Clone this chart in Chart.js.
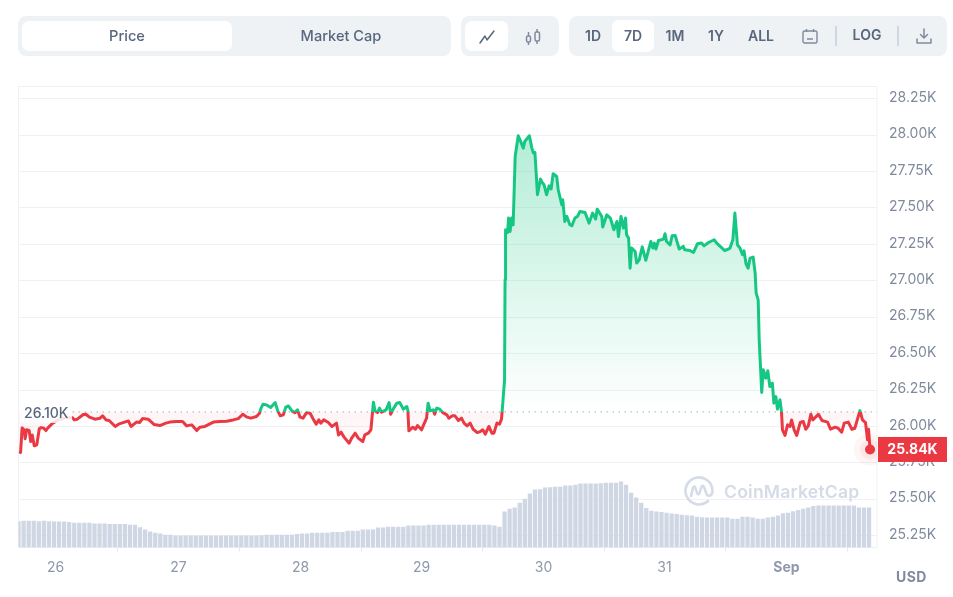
<!DOCTYPE html>
<html>
<head>
<meta charset="utf-8">
<title>Bitcoin price</title>
<script src="https://cdn.jsdelivr.net/npm/chart.js@4/dist/chart.umd.js"></script>
<style>
  html, body { margin: 0; padding: 0; background: #fff; }
  body { position: relative; width: 953px; height: 597px; overflow: hidden; font-family: Inter, sans-serif; }
  canvas { position: absolute; left: 0; top: 0; }
  .group { position: absolute; top: 16px; height: 40px; background: #eff2f5; border-radius: 8px; }
  .on { position: absolute; background: #fff; border-radius: 7px; }
  .btn { position: absolute; top: 16px; height: 39px; line-height: 39px; transform: translateX(-50%); color: #58667e; font-size: 14px; font-weight: 600; white-space: nowrap; }
  .btn.big { top: 17px; font-weight: 500; font-size: 14.6px; }
  .icon { position: absolute; }
  .divider { position: absolute; top: 26px; width: 2px; height: 20px; background: #cfd6e4; }
  .mark { position: absolute; left: 724px; top: 480px; font-size: 17.6px; line-height: 24px; font-weight: 600; color: #d5dbe7; letter-spacing: 0.2px; }
  .usd { position: absolute; left: 896px; top: 568px; font-size: 14px; line-height: 17px; font-weight: 700; color: #808a9d; letter-spacing: 0.4px; }
</style>
</head>
<body>
<canvas id="myChart" width="953" height="597"></canvas>

<div class="group" style="left:18px;width:433px"></div>
<div class="on" style="left:22px;top:21px;width:210px;height:30px"></div>
<span class="btn big" style="left:127px">Price</span>
<span class="btn big" style="left:341px">Market Cap</span>

<div class="group" style="left:461px;width:98px"></div>
<div class="on" style="left:465px;top:21px;width:43px;height:30px"></div>
<svg class="icon" style="left:478px;top:28px" width="18" height="18" viewBox="0 0 18 18" fill="none" stroke="#58667e" stroke-width="1.5" stroke-linejoin="round" stroke-linecap="round"><path d="M2 15 L7 8 L9 12 L16 3"/></svg>
<svg class="icon" style="left:524px;top:28px" width="18" height="18" viewBox="0 0 18 18" fill="none" stroke="#808a9d" stroke-width="1.5"><rect x="2.5" y="8" width="4" height="6" rx="1.5"/><path d="M4.5 4V8M4.5 14V17"/><rect x="11" y="4" width="4.5" height="9" rx="1.5"/><path d="M13 1V4M13 13V16"/></svg>

<div class="group" style="left:569px;width:378px"></div>
<div class="on" style="left:612px;top:20px;width:42px;height:32px"></div>
<span class="btn" style="left:593px">1D</span>
<span class="btn" style="left:633px">7D</span>
<span class="btn" style="left:675px">1M</span>
<span class="btn" style="left:716px">1Y</span>
<span class="btn" style="left:761px">ALL</span>
<svg class="icon" style="left:802px;top:28px" width="16" height="16" viewBox="0 0 16 16" fill="none" stroke="#808a9d" stroke-width="1.4"><rect x="1" y="3" width="14" height="12" rx="1.5"/><path d="M4.5 1V4M11.5 1V4M5 11H11"/></svg>
<div class="divider" style="left:835px"></div>
<span class="btn" style="left:867px;top:15px">LOG</span>
<div class="divider" style="left:897px"></div>
<svg class="icon" style="left:916px;top:28px" width="16" height="16" viewBox="0 0 16 16" fill="none" stroke="#808a9d" stroke-width="1.5" stroke-linecap="round" stroke-linejoin="round"><path d="M8 1V10M4.5 6.5L8 10L11.5 6.5M1 11V15H15V11"/></svg>

<svg class="icon" style="left:684px;top:476px" width="30" height="30" viewBox="0 0 30 30" fill="none" stroke="#d5dbe7" stroke-width="2.6" stroke-linecap="round" stroke-linejoin="round"><path d="M24 25 A13.5 13.5 0 1 1 28.5 15 C28.5 20 24 21 22.5 18 L20 11 C19 9 17.5 10 17 12 L15.5 17 C15 19 13.5 19 13 17 L11.5 12 C11 10 9.5 10 9 12 L7 20"/></svg>
<div class="mark">CoinMarketCap</div>
<div class="usd">USD</div>

<script>
//hours are counted from 26 Aug 00:00
const priceHours = [
  -7.2,-6.9,-6.6,-6.2,-6.0,-5.7,-5.2,-4.9,-4.6,-4.2,-3.7,-3.2,-2.9,-2.4,-1.9,-1.5,-0.7,0.5,1.9,3.4,
  3.7,4.3,5.5,6.0,6.7,7.8,8.8,9.3,10.0,10.6,11.8,12.6,14.4,14.9,16.0,16.6,17.2,18.3,19.5,20.6,
  21.8,22.6,23.9,25.1,25.9,26.9,27.9,28.5,29.5,31.2,32.5,33.8,35.1,36.1,37.0,37.8,38.6,39.7,40.3,40.6,
  41.0,41.7,42.5,43.4,43.9,44.4,45.0,45.5,46.0,46.7,47.3,47.8,48.3,48.9,49.6,50.3,50.8,51.5,52.0,52.4,
  53.0,53.9,54.6,55.5,55.9,56.4,57.0,58.0,58.5,59.2,59.8,60.7,61.1,61.8,62.3,62.6,62.8,63.1,63.6,64.0,
  64.4,65.3,65.9,66.2,66.7,67.4,68.0,68.7,69.4,69.6,69.8,70.6,71.1,71.5,72.3,72.8,73.3,73.6,74.0,74.6,
  74.9,75.3,75.9,76.5,77.3,77.7,78.4,78.9,79.6,80.2,80.7,81.3,81.9,82.5,83.3,83.9,84.4,84.9,85.6,86.2,
  86.6,87.2,87.7,88.1,88.3,88.7,88.8,88.9,89.3,89.5,89.8,90.1,90.4,90.8,91.4,91.8,92.4,92.7,93.6,94.1,
  94.4,94.7,95.2,95.8,96.2,96.5,97.0,97.5,97.9,98.3,99.0,99.3,100.0,100.2,100.6,101.0,101.6,102.0,102.6,103.1,
  103.6,104.6,105.4,106.1,106.7,107.0,107.9,108.1,108.9,109.6,110.3,110.9,111.2,111.7,112.2,112.6,112.8,113.2,113.5,113.8,
  114.5,114.8,115.3,115.9,116.6,117.6,118.0,118.3,118.6,119.1,120.1,120.4,120.7,121.4,121.8,122.4,123.2,124.0,124.3,125.3,
  126.0,126.8,127.6,128.1,129.0,130.1,130.6,131.3,132.2,133.2,133.8,134.2,134.7,135.2,135.7,136.0,136.4,136.8,137.2,137.8,
  138.2,138.4,138.8,139.0,139.5,139.8,140.3,140.7,141.1,141.6,141.9,142.3,142.6,143.1,143.4,143.6,144.1,144.6,145.1,145.4,
  145.9,146.4,147.1,147.7,148.2,148.7,149.2,149.6,150.7,151.4,152.5,153.1,154.0,154.6,155.3,155.8,156.6,157.3,157.9,158.9,
  159.4,160.0,160.4,160.6,160.9
];

const priceValues = [
  25828,25821,25990,25977,25915,25977,25972,25896,25942,25867,25874,25984,25992,25990,25972,25990,26018,26045,26059,26059,
  26045,26050,26082,26084,26064,26050,26057,26073,26045,26041,26000,26018,26038,26000,26030,26027,26054,26050,26013,26006,
  26023,26030,26034,26034,26004,26011,25972,25995,26000,26030,26034,26036,26045,26054,26084,26064,26057,26068,26091,26126,
  26153,26148,26130,26164,26107,26073,26080,26133,26141,26107,26095,26114,26064,26057,26095,26091,26057,26016,26045,26023,
  26045,26027,26000,26023,25942,25961,25927,25885,25920,25954,25920,25896,25942,25954,25977,26091,26167,26107,26095,26126,
  26098,26114,26164,26084,26119,26160,26164,26119,26137,26109,25970,25995,25981,26006,25977,26018,26057,26160,26107,26114,
  26084,26126,26119,26095,26080,26057,26073,26073,26041,26057,26023,26004,26023,25981,25958,25965,25977,25947,26000,25954,
  25954,26023,26016,26050,26137,26320,27007,27350,27332,27431,27339,27431,27385,27854,27996,27964,27911,27957,27996,27911,
  27877,27881,27591,27698,27671,27659,27591,27652,27630,27735,27716,27625,27522,27556,27407,27442,27385,27378,27431,27442,
  27476,27469,27396,27465,27424,27492,27442,27369,27453,27431,27350,27407,27304,27442,27362,27431,27316,27293,27087,27225,
  27201,27122,27144,27233,27141,27270,27225,27259,27218,27277,27286,27323,27270,27247,27309,27311,27218,27236,27213,27208,
  27194,27254,27259,27240,27263,27282,27259,27236,27208,27222,27282,27465,27247,27225,27179,27206,27117,27087,27156,27163,
  27053,26915,26869,26595,26233,26389,26332,26382,26274,26297,26160,26205,26119,26183,26102,25977,25938,26011,26000,26045,
  25977,25938,26027,26034,25981,26004,26084,26045,26084,26041,26030,25981,25995,25988,25961,26023,26030,25981,25988,26109,
  26045,26027,25908,25981,25842
];

//volume per hour in billions, first bar just after hour -7.3
const volumeStartHour = -7.3;
const volumeValues = [
  11.7,11.9,11.9,11.9,11.7,11.9,11.7,11.5,11.5,11.5,11.3,11.0,11.0,11.0,11.0,10.6,10.6,10.6,10.4,10.4,
  10.4,10.4,10.1,10.1,9.0,7.9,7.0,6.5,6.1,5.6,5.6,5.2,5.2,5.2,5.2,5.2,5.2,5.2,5.2,5.2,
  5.2,5.2,5.2,5.2,5.2,5.2,5.2,5.2,5.4,5.6,5.6,5.6,5.6,5.6,5.6,5.9,6.1,6.1,6.5,6.5,
  6.5,6.5,6.8,6.8,6.8,7.4,7.4,7.4,7.9,7.9,7.9,8.8,8.8,9.2,9.2,9.2,9.2,9.7,9.7,9.7,
  9.7,10.1,10.1,10.1,10.1,10.1,10.1,10.1,10.1,10.1,10.1,10.1,10.1,10.1,9.7,9.2,16.0,17.3,17.8,20.0,
  21.8,24.1,25.9,26.1,26.8,27.0,27.2,27.2,27.7,27.7,28.1,28.6,28.6,28.6,28.6,28.8,29.0,29.0,29.0,29.5,
  28.1,24.5,22.3,20.0,17.6,16.4,16.0,15.8,15.5,15.1,14.9,14.6,14.4,14.2,13.7,13.5,13.3,13.3,13.3,13.3,
  13.3,12.8,12.8,13.7,13.7,13.3,12.8,12.8,13.3,13.7,14.2,15.3,15.5,16.2,16.7,17.3,17.8,18.5,18.7,18.7,
  18.7,18.7,18.7,18.7,18.7,18.7,17.8,17.8,17.8
];

const baselinePrice = 26100;
const baselineLabel = "26.10K";
const priceTicks = [25250,25500,25750,26000,26250,26500,26750,27000,27250,27500,27750,28000,28250];
const dayTickHours = [0,24.3,48.4,72.3,96.4,120.3,144.4];
const dayLabels = ["26","27","28","29","30","31","Sep"];

const up = "#16c784";
const down = "#ea3943";

function fmt(v) {
  return (v / 1000).toFixed(2) + "K";
}

//line is green above the baseline and red under it
function strokeColor(c) {
  const area = c.chart.chartArea;
  if (!area) return down;
  const y = c.chart.scales.y;
  const g = c.chart.ctx.createLinearGradient(0, area.top, 0, area.bottom);
  const stop = (y.getPixelForValue(baselinePrice) - area.top) / (area.bottom - area.top);
  g.addColorStop(0, up);
  g.addColorStop(stop, up);
  g.addColorStop(stop, down);
  g.addColorStop(1, down);
  return g;
}

function areaFill(c) {
  const area = c.chart.chartArea;
  if (!area) return { target: { value: baselinePrice }, above: "transparent", below: "transparent" };
  const y = c.chart.scales.y;
  const base = y.getPixelForValue(baselinePrice);
  const hi = c.chart.ctx.createLinearGradient(0, y.getPixelForValue(28000), 0, base);
  hi.addColorStop(0, "rgba(22,199,132,0.32)");
  hi.addColorStop(1, "rgba(22,199,132,0)");
  const lo = c.chart.ctx.createLinearGradient(0, base, 0, y.getPixelForValue(25850));
  lo.addColorStop(0, "rgba(234,57,67,0.05)");
  lo.addColorStop(1, "rgba(234,57,67,0.02)");
  return { target: { value: baselinePrice }, above: hi, below: lo };
}

//frame round the plot
const framePlugin = {
  id: "frame",
  beforeDatasetsDraw(chart) {
    const a = chart.chartArea;
    const ctx = chart.ctx;
    ctx.save();
    ctx.strokeStyle = "#eff2f5";
    ctx.lineWidth = 1;
    ctx.strokeRect(a.left, a.top, a.right - a.left, a.bottom - a.top);
    ctx.restore();
  }
};

//baseline label and the last price tag
const labelPlugin = {
  id: "labels",
  afterDraw(chart) {
    const ctx = chart.ctx;
    const y = chart.scales.y;
    const base = y.getPixelForValue(baselinePrice);
    const last = priceValues[priceValues.length - 1];
    const lastY = y.getPixelForValue(last);
    ctx.save();
    ctx.fillStyle = "rgba(255,255,255,0.85)";
    ctx.fillRect(20, base - 8, 52, 19);
    ctx.font = "500 14px Inter";
    ctx.fillStyle = "#58667e";
    ctx.textAlign = "left";
    ctx.textBaseline = "middle";
    ctx.fillText(baselineLabel, 24, base + 2);
    ctx.fillStyle = down;
    ctx.fillRect(878, lastY - 12.5, 69, 25);
    ctx.font = "700 14px Inter";
    ctx.fillStyle = "#fff";
    ctx.textAlign = "center";
    ctx.fillText(fmt(last), 912.5, lastY + 0.5);
    ctx.restore();
  }
};

const lastHour = priceHours[priceHours.length - 1];
const lastPrice = priceValues[priceValues.length - 1];

new Chart(document.getElementById("myChart"), {
  data: {
    datasets: [
      {
        type: "scatter",
        data: [{ x: lastHour, y: lastPrice }],
        yAxisID: "y",
        pointRadius: 5,
        pointBackgroundColor: down,
        pointBorderWidth: 0,
        order: 0,
      },
      {
        type: "scatter",
        data: [{ x: lastHour, y: lastPrice }],
        yAxisID: "y",
        pointRadius: 10,
        pointBackgroundColor: "rgba(234,57,67,0.08)",
        pointBorderWidth: 0,
        order: 1,
      },
      {
        type: "scatter",
        data: [{ x: lastHour, y: lastPrice }],
        yAxisID: "y",
        pointRadius: 16,
        pointBackgroundColor: "rgba(234,57,67,0.05)",
        pointBorderWidth: 0,
        order: 2,
      },
      {
        type: "line",
        label: "Price",
        data: priceHours.map((h, i) => ({ x: h, y: priceValues[i] })),
        yAxisID: "y",
        borderColor: strokeColor,
        borderWidth: 3,
        borderJoinStyle: "round",
        fill: areaFill,
        pointRadius: 0,
        tension: 0,
        order: 3,
      },
      {
        type: "line",
        data: [{ x: 3.4, y: baselinePrice }, { x: 162.27, y: baselinePrice }],
        yAxisID: "y",
        borderColor: "#808a9d",
        borderWidth: 1,
        borderDash: [1, 5],
        pointRadius: 0,
        order: 4,
      },
      {
        type: "bar",
        label: "Volume",
        data: volumeValues.map((v, i) => ({ x: volumeStartHour + i, y: v })),
        yAxisID: "y1",
        backgroundColor: "#cfd6e4",
        barThickness: 3.6,
        order: 5,
      },
    ],
  },
  options: {
    responsive: false,
    animation: false,
    events: [],
    layout: { padding: { left: 18.5, top: 86.5 } },
    plugins: {
      legend: { display: false },
      tooltip: { enabled: false },
    },
    scales: {
      x: {
        type: "linear",
        offset: false,
        min: -7.31,
        max: 162.27,
        afterBuildTicks: (s) => { s.ticks = dayTickHours.map((h) => ({ value: h })); },
        afterFit: (s) => { s.height = 49.5; },
        grid: { drawOnChartArea: false, tickLength: 4, color: "#e4e8ef" },
        border: { display: false },
        ticks: {
          autoSkip: false,
          maxRotation: 0,
          padding: 8,
          color: "#8f98ab",
          font: (c) => ({ family: "Inter", size: 14, weight: c.tick && c.tick.value === dayTickHours[6] ? "700" : "400" }),
          callback: (v) => dayLabels[dayTickHours.indexOf(v)],
        },
      },
      y: {
        position: "right",
        min: 25169,
        max: 28334,
        afterBuildTicks: (s) => { s.ticks = priceTicks.map((v) => ({ value: v })); },
        afterFit: (s) => { s.width = 76; },
        grid: { color: "#eff2f5", drawTicks: false },
        border: { display: false },
        ticks: {
          autoSkip: false,
          padding: 12,
          labelOffset: -1,
          color: "#808a9d",
          font: { family: "Inter", size: 14 },
          callback: fmt,
        },
      },
      y1: {
        display: false,
        min: 0,
        max: 207.45,
      },
    },
  },
  plugins: [framePlugin, labelPlugin],
});
</script>
</body>
</html>
